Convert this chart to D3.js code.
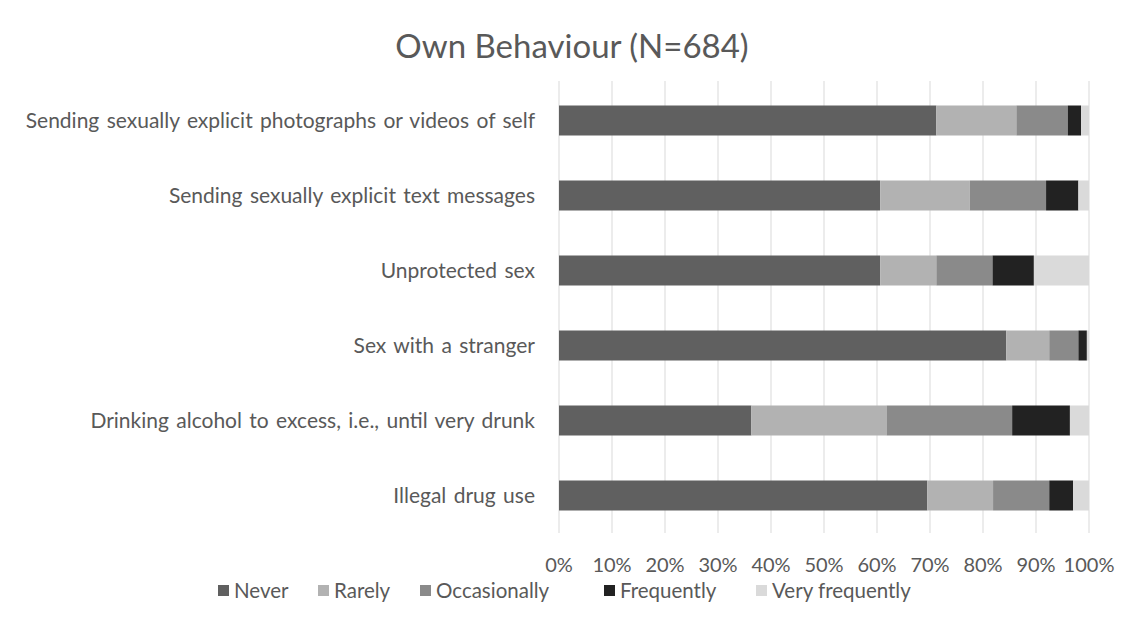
<!DOCTYPE html>
<html>
<head>
<meta charset="utf-8">
<script src="https://cdn.jsdelivr.net/npm/d3@7"></script>
<style>
  body { margin: 0; background: #fff; }
  text { font-family: Lato, "Open Sans", sans-serif; fill: #595959; }
</style>
</head>
<body>
<svg id="chart" width="1128" height="629"></svg>
<script>
// behaviours, top to bottom
const behaviours = [
  "Sending sexually explicit photographs or videos of self",
  "Sending sexually explicit text messages",
  "Unprotected sex",
  "Sex with a stranger",
  "Drinking alcohol to excess, i.e., until very drunk",
  "Illegal drug use"
];
const answers = ["Never", "Rarely", "Occasionally", "Frequently", "Very frequently"];
// percent of respondents per answer
const never        = [71.2, 60.6, 60.6, 84.4, 36.3, 69.5];
const rarely       = [15.1, 16.9, 10.6,  8.1, 25.5, 12.4];
const occasionally = [ 9.7, 14.4, 10.6,  5.5, 23.7, 10.6];
const frequently   = [ 2.5,  6.1,  7.8,  1.6, 10.9,  4.5];
const veryFreq     = [ 1.5,  2.0, 10.4,  0.4,  3.6,  3.0];
const ticks = [0, 10, 20, 30, 40, 50, 60, 70, 80, 90, 100];
const colors = ["#606060", "#b2b2b2", "#8a8a8a", "#222222", "#dadada"];

const table = behaviours.map((b, i) => ({
  behaviour: b,
  "Never": never[i],
  "Rarely": rarely[i],
  "Occasionally": occasionally[i],
  "Frequently": frequently[i],
  "Very frequently": veryFreq[i]
}));

const svg = d3.select("#chart");
const margin = {top: 83, right: 39, bottom: 96, left: 559};
const width = 1128, height = 629;

const x = d3.scaleLinear().domain([0, 100]).range([margin.left, width - margin.right]);
const y = d3.scaleBand().domain(behaviours)
  .range([margin.top, height - margin.bottom]).paddingInner(0.6).paddingOuter(0.3);
const color = d3.scaleOrdinal().domain(answers).range(colors);

// title
svg.append("text").attr("x", 572).attr("y", 58).attr("text-anchor", "middle")
  .style("font-size", "33px").text("Own Behaviour (N=684)");

// gridlines
svg.append("g").selectAll("line").data(ticks).enter().append("line")
  .attr("x1", d => x(d)).attr("x2", d => x(d))
  .attr("y1", margin.top - 2).attr("y2", height - margin.bottom)
  .attr("stroke", "#d9d9d9").attr("stroke-width", 1);

// stacked bars
const stacked = d3.stack().keys(answers)(table);
svg.append("g").selectAll("g").data(stacked).enter().append("g")
  .attr("fill", d => color(d.key))
  .selectAll("rect").data(d => d).enter().append("rect")
  .attr("x", d => x(d[0]))
  .attr("width", d => x(d[1]) - x(d[0]))
  .attr("y", d => y(d.data.behaviour))
  .attr("height", y.bandwidth());

// category labels
svg.append("g").selectAll("text").data(behaviours).enter().append("text")
  .attr("x", margin.left - 24)
  .attr("y", d => y(d) + y.bandwidth() / 2)
  .attr("dy", "0.35em").attr("text-anchor", "end")
  .style("font-size", "21px").style("word-spacing", "2px").text(d => d);

// x axis labels
svg.append("g").selectAll("text").data(ticks).enter().append("text")
  .attr("x", d => x(d)).attr("y", 572).attr("text-anchor", "middle")
  .style("font-size", "20px").text(d => d + "%");

// legend
const legendX = [218, 318, 420, 604, 756];
const lg = svg.append("g").selectAll("g").data(answers).enter().append("g")
  .attr("transform", (d, i) => `translate(${legendX[i]},591)`);
lg.append("rect").attr("x", 0).attr("y", -6).attr("width", 11).attr("height", 11)
  .attr("fill", d => color(d));
lg.append("text").attr("x", 16).attr("dy", "0.35em").style("font-size", "20.5px").text(d => d);
</script>
</body>
</html>
